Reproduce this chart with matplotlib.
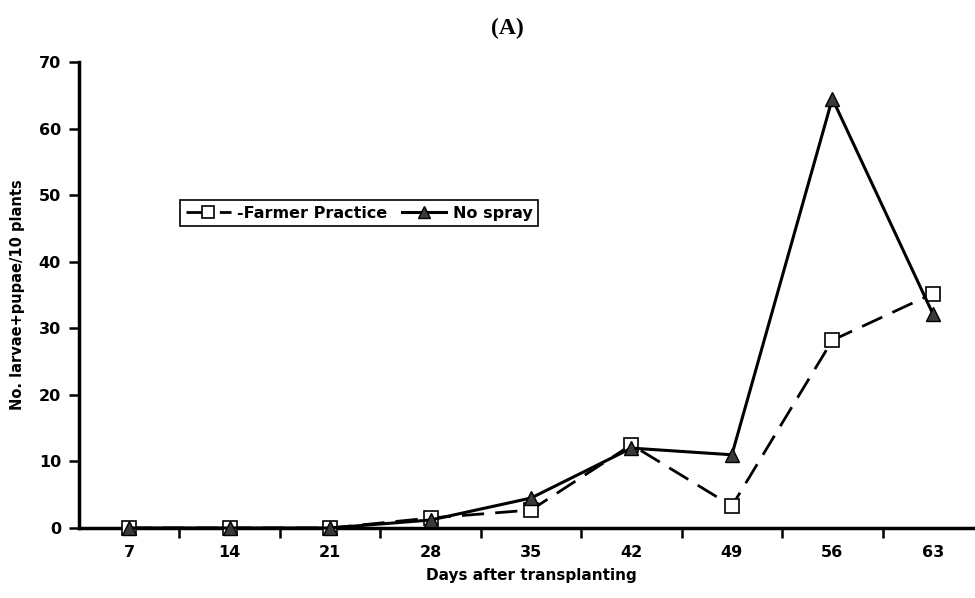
import matplotlib
matplotlib.use('Agg')
import matplotlib.pyplot as plt
import numpy as np

days = ['7', '14', '21', '28', '35', '42', '49', '56', '63']
farmer = [0, 0, 0, 1.5, 2.7, 12.5, 3.3, 28.2, 35.2]
nospray = [0, 0, 0, 1.2, 4.5, 12, 11, 64.5, 32.2]

plt.rcParams['font.family'] = 'DejaVu Sans'
plt.rcParams['font.weight'] = 'bold'
plt.rcParams['axes.labelweight'] = 'bold'

fig = plt.figure(figsize=(9.75, 5.98), dpi=100)
ax = fig.add_axes([79/975, 1-528/598, 904/975, 466/598])

x = np.arange(len(days))
ax.plot(x, farmer, color='black', lw=2, dashes=(8, 4), marker='s', ms=10,
        mfc='white', mec='black', mew=1.2, label='-Farmer Practice', clip_on=False, zorder=3)
ax.plot(x, nospray, color='black', lw=2.2, marker='^', ms=9.5,
        mfc='#3a3a3a', mec='black', mew=1, label='No spray', clip_on=False, zorder=4)

ax.set_xlim(-0.5, 8.5)
ax.set_ylim(0, 70)
ax.set_yticks(range(0, 71, 10))
ax.set_xticks(x + 0.5)
ax.set_xticklabels([])
ax.set_xticks(x, minor=True)
ax.set_xticklabels(days, minor=True)
ax.tick_params(axis='x', which='minor', length=0, pad=12, labelsize=11.5)
ax.tick_params(axis='x', which='major', direction='out', length=7, width=1.8)
ax.tick_params(axis='y', direction='out', length=7, width=1.8, labelsize=11.5, pad=6)

for s in ['top', 'right']:
    ax.spines[s].set_visible(False)
for s in ['left', 'bottom']:
    ax.spines[s].set_linewidth(2.5)

ax.set_ylabel('No. larvae+pupae/10 plants', fontsize=10.5, labelpad=10)
ax.set_xlabel('Days after transplanting', fontsize=11, labelpad=6)

fig.text(0.52, 0.953, '(A)', ha='center', va='center', fontsize=17,
         family='Liberation Serif', weight='bold')

leg = ax.legend(loc='upper left', bbox_to_anchor=(0.112, 0.704), ncol=2,
                borderaxespad=0, fancybox=False, framealpha=1, edgecolor='black',
                fontsize=11.5, handlelength=2.8, handletextpad=0.4,
                columnspacing=0.9, borderpad=0.35, markerscale=0.85)
leg.get_frame().set_linewidth(1.2)

fig.savefig('out.png', dpi=100)
